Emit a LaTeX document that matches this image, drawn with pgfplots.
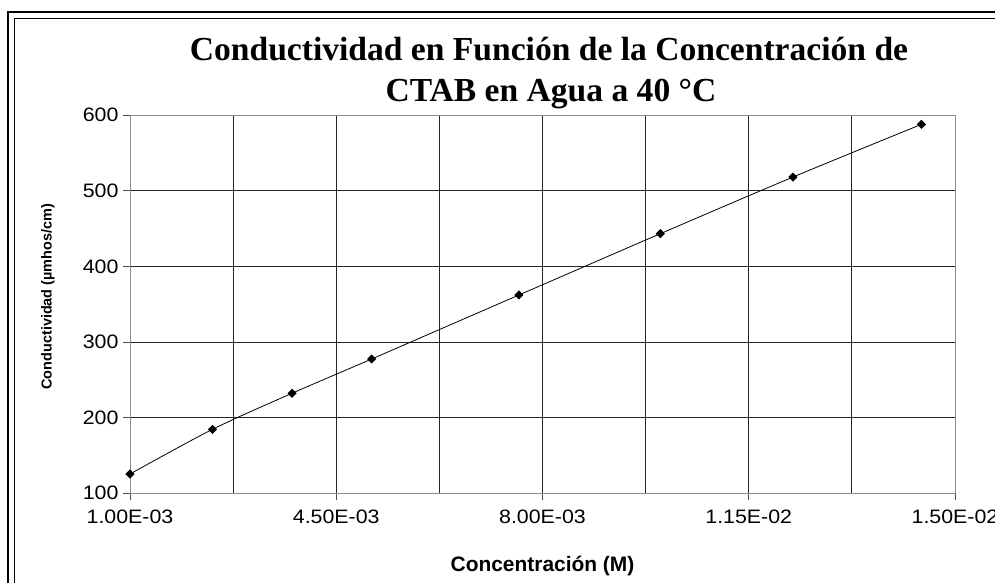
\documentclass[border=0pt]{standalone}
\usepackage{pgfplots}
\pgfplotsset{compat=1.18}
\usepackage{fontspec}
\setmainfont{Liberation Serif}
\setsansfont{Liberation Sans}
\newfontfamily\ticksans{Liberation Sans}[FakeStretch=1.1]

\begin{document}
\begin{tikzpicture}[x=1bp,y=1bp]
\path[use as bounding box] (0,0) rectangle (995,583);
\clip (0,0) rectangle (995,583);
\fill[white] (0,0) rectangle (995,583);
% double frame of the chart area (cut off on the right and bottom)
\draw[line width=2bp] (8,570.5) rectangle (1200,-100);
\draw[line width=1bp] (14,564) rectangle (1200,-100);
% title
\node[anchor=base, font=\bfseries\fontsize{33.7}{33.7}\selectfont] at (549,522)
  {Conductividad en Función de la Concentración de};
\node[anchor=base, font=\bfseries\fontsize{33.7}{33.7}\selectfont] at (551,481.3)
  {CTAB en Agua a 40 °C};

\begin{axis}[
    at={(130bp,89.7bp)}, anchor=south west,
    scale only axis, width=825bp, height=378bp,
    xmin=0.001, xmax=0.015, ymin=100, ymax=600,
    scaled x ticks=false,
    xtick={0.001,0.0045,0.008,0.0115,0.015},
    xticklabels={1.00E-03,4.50E-03,8.00E-03,1.15E-02,1.50E-02},
    minor xtick={0.00275,0.00625,0.00975,0.01325},
    ytick={100,200,...,600},
    grid=both,
    major grid style={black!85, line width=1bp},
    minor grid style={black!85, line width=1bp},
    axis line style={black!45, line width=1bp},
    tick align=outside,
    major tick length=7bp, minor tick length=0pt,
    tick style={black!70, line width=1bp},
    xtick pos=bottom, ytick pos=left,
    /pgf/number format/assume math mode=true,
    ticklabel style={font=\ticksans\fontsize{19.5}{19.5}\selectfont},
    xticklabel style={yshift=-6bp},
    yticklabel style={xshift=-1bp},
    xlabel={Concentración (M)},
    xlabel style={at={(axis description cs:0.5,0)}, anchor=base, yshift=-78.4bp,
        font=\sffamily\bfseries\fontsize{21}{21}\selectfont},
    ylabel={Conductividad (µmhos/cm)},
    ylabel style={at={(axis description cs:-0.0994,0.52)}, anchor=center,
        font=\sffamily\bfseries\fontsize{14.5}{14.5}\selectfont},
]
\addplot[black, line width=0.8bp, smooth, tension=0.5,
    mark=diamond*, mark size=4bp, mark options={xscale=1.33, fill=black}]
  coordinates {
    (0.00100,125.5) (0.00240,184.6) (0.00375,232.3) (0.00510,277.6)
    (0.00760,362.3) (0.01000,443.4) (0.01225,518.3) (0.01443,588.0)
  };
\end{axis}
\end{tikzpicture}
\end{document}
